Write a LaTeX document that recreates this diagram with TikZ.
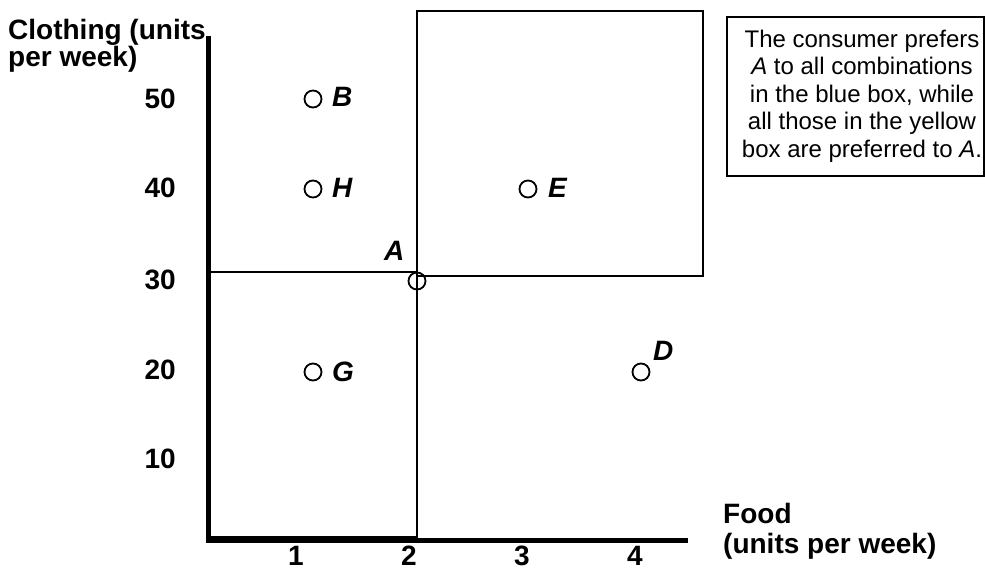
\documentclass[tikz,border=0pt]{standalone}
\usepackage{fontspec}
\setmainfont{Liberation Sans}
\begin{document}
\begin{tikzpicture}[x=1pt,y=-1pt,
  dot/.style={circle,draw,line width=1.8pt,minimum size=17pt,inner sep=0pt},
  ptlabel/.style={anchor=base west,inner sep=0pt,font=\fontsize{28}{30}\selectfont\bfseries\itshape},
  axlabel/.style={inner sep=0pt,font=\fontsize{28}{30}\selectfont\bfseries},
  boxline/.style={line width=2pt},
  axisline/.style={line width=5pt}]
\useasboundingbox[fill=white] (0,0) rectangle (985,569);

% corner coordinates
\coordinate (O) at (208.5,540.5);
\coordinate (Ytop) at (208.5,36);
\coordinate (Xend) at (688,540.5);

% blue box (lower-left of A)
\draw[boxline] (208.5,272) -- (417,272) -- (417,536.5) -- (208.5,536.5);
% yellow box (upper-right of A)
\draw[boxline] (417,276) rectangle (703,11);

% axes
\draw[axisline] (Ytop) -- (208.5,543);
\draw[line width=4.5pt] (206,540.5) -- (Xend);

% points
\node[dot] (B) at (313,99) {};
\node[dot] (H) at (313,189) {};
\node[dot] (G) at (313,372) {};
\node[dot] (A) at (417,281) {};
\node[dot] (E) at (528,189) {};
\node[dot] (D) at (641,372) {};

\node[ptlabel] (Bl) at (332,107) {B};
\node[ptlabel] (Hl) at (332,198) {H};
\node[ptlabel] (Gl) at (332,381) {G};
\node[ptlabel] (Al) at (384,261) {A};
\node[ptlabel] (El) at (548,198) {E};
\node[ptlabel] (Dl) at (653,360) {D};

% y tick labels
\node[axlabel,anchor=east] (y50) at (176,99) {50};
\node[axlabel,anchor=east] (y40) at (176,188) {40};
\node[axlabel,anchor=east] (y30) at (176,280) {30};
\node[axlabel,anchor=east] (y20) at (176,370) {20};
\node[axlabel,anchor=east] (y10) at (176,459) {10};

% x tick labels
\node[axlabel,anchor=north] (x1) at (296,546) {1};
\node[axlabel,anchor=north] (x2) at (409,546) {2};
\node[axlabel,anchor=north] (x3) at (522,546) {3};
\node[axlabel,anchor=north] (x4) at (635,546) {4};

% axis titles
\node[axlabel,anchor=base west] (ytitle1) at (8,40) {Clothing (units};
\node[axlabel,anchor=base west] (ytitle2) at (8,67) {per week)};
\node[axlabel,anchor=base west] (xtitle1) at (723,523) {Food};
\node[axlabel,anchor=base west] (xtitle2) at (723,553) {(units per week)};

% note box
\draw[boxline] (727,17) rectangle (984,176);
\node[anchor=north,inner sep=0pt,align=center,font=\fontsize{24}{27.5}\selectfont] (note) at (862,29.5)
  {The consumer prefers\\ \textit{A} to all combinations\\ in the blue box, while\\ all those in the yellow\\ box are preferred to \textit{A}.};
\end{tikzpicture}
\end{document}
